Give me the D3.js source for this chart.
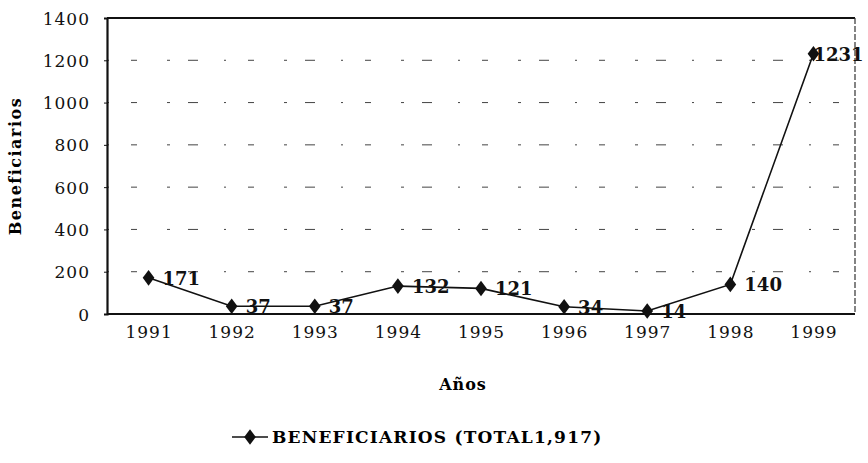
<!DOCTYPE html>
<html>
<head>
<meta charset="utf-8">
<script src="https://cdn.jsdelivr.net/npm/d3@7"></script>
<style>
  body { margin: 0; background: #fff; }
  svg { display: block; font-family: "DejaVu Serif", "Liberation Serif", serif; }
</style>
</head>
<body>
<div id="chart"></div>
<script>
// data
const years = ["1991", "1992", "1993", "1994", "1995", "1996", "1997", "1998", "1999"];
const beneficiarios = [171, 37, 37, 132, 121, 34, 14, 140, 1231];
const yTicks = [0, 200, 400, 600, 800, 1000, 1200, 1400];
const seriesName = "BENEFICIARIOS (TOTAL1,917)";

const W = 868, H = 463;
const margin = { top: 18, right: 13, bottom: 149, left: 107 };
const iw = W - margin.left - margin.right;
const ih = H - margin.top - margin.bottom;
const serif = "'DejaVu Serif', 'Liberation Serif', serif";

const svg = d3.select("#chart").append("svg")
   .attr("width", W)
   .attr("height", H);

const g = svg.append("g")
   .attr("transform", `translate(${margin.left},${margin.top})`);

const x = d3.scalePoint().domain(years).range([0, iw]).padding(0.5);
const y = d3.scaleLinear().domain([0, 1400]).range([ih, 0]);

// broken gridlines, like the scan
g.append("g").selectAll("line")
   .data(yTicks.filter(t => t > 0 && t < 1400))
   .join("line")
   .attr("x1", 0).attr("x2", iw)
   .attr("y1", d => y(d)).attr("y2", d => y(d))
   .style("stroke", "#444")
   .style("stroke-width", 1)
   .style("stroke-dasharray", "2,22,6,30,3,18,10,26");

// frame
g.append("line").attr("x1", 0).attr("x2", iw).attr("y1", 0).attr("y2", 0)
   .style("stroke", "#111").style("stroke-width", 2);
g.append("line").attr("x1", iw).attr("x2", iw).attr("y1", 0).attr("y2", ih)
   .style("stroke", "#333").style("stroke-width", 1.2).style("stroke-dasharray", "6,2");

// y axis
const yAxis = g.append("g")
   .attr("font-family", serif)
   .call(d3.axisLeft(y).tickValues(yTicks).tickSize(3).tickPadding(14).tickFormat(d3.format("d")));
yAxis.attr("font-family", serif);
yAxis.select(".domain").style("stroke", "#111").style("stroke-width", 2.2);
yAxis.selectAll(".tick line").style("stroke", "#111");
yAxis.selectAll("text")
   .style("font-family", serif)
   .style("font-size", "17px")
   .style("letter-spacing", "1px")
   .attr("dy", "0.36em")
   .style("fill", "#111");

// x axis
const xAxis = g.append("g")
   .attr("transform", `translate(0,${ih})`)
   .call(d3.axisBottom(x).tickSize(0).tickPadding(12));
xAxis.attr("font-family", serif);
xAxis.select(".domain").attr("d", `M0,0H${iw}`).style("stroke", "#111").style("stroke-width", 1.8);
xAxis.selectAll("text")
   .style("font-family", serif)
   .style("font-size", "17px")
   .style("letter-spacing", "1px")
   .style("fill", "#111");

// line
const pts = years.map((yr, i) => ({ yr: yr, v: beneficiarios[i] }));
g.append("path")
   .datum(pts)
   .attr("d", d3.line().x(d => x(d.yr)).y(d => y(d.v)))
   .style("fill", "none")
   .style("stroke", "#111")
   .style("stroke-width", 1.6);

const diamond = d3.symbol().type(d3.symbolDiamond).size(70);
g.append("g").selectAll("path")
   .data(pts)
   .join("path")
   .attr("transform", d => `translate(${x(d.yr)},${y(d.v)}) scale(1.3,1)`)
   .attr("d", diamond)
   .style("fill", "#111");

// value labels
g.append("g").selectAll("text")
   .data(pts)
   .join("text")
   .attr("x", (d, i) => x(d.yr) + (i === pts.length - 1 ? 0 : 14))
   .attr("y", d => y(d.v))
   .attr("dy", "0.38em")
   .text(d => d.v)
   .style("font-size", "18px")
   .style("font-weight", "bold")
   .style("fill", "#111");

// axis titles
svg.append("text")
   .attr("transform", `translate(21,${margin.top + ih / 2}) rotate(-90)`)
   .attr("text-anchor", "middle")
   .text("Beneficiarios")
   .style("font-size", "16px")
   .style("letter-spacing", "1.5px")
   .style("font-weight", "bold");

svg.append("text")
   .attr("x", margin.left + iw / 2 - 18)
   .attr("y", 390)
   .attr("text-anchor", "middle")
   .text("Años")
   .style("font-size", "16px")
   .style("letter-spacing", "1px")
   .style("font-weight", "bold");

// legend
const lg = svg.append("g").attr("transform", "translate(232,437)");
lg.append("line").attr("x1", 0).attr("x2", 36).attr("y1", 0).attr("y2", 0)
   .style("stroke", "#111").style("stroke-width", 1.6);
lg.append("path").attr("transform", "translate(18,0) scale(1.3,1)").attr("d", diamond).style("fill", "#111");
lg.append("text")
   .attr("x", 40)
   .attr("dy", "0.36em")
   .text(seriesName)
   .style("font-size", "17px")
   .style("letter-spacing", "1.2px")
   .style("font-weight", "bold");
</script>
</body>
</html>
